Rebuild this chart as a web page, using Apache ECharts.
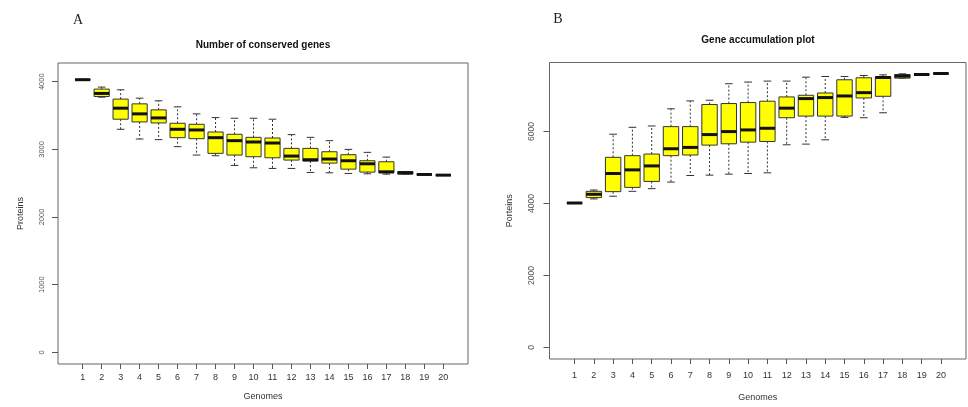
<!DOCTYPE html>
<html>
<head>
<meta charset="utf-8">
<script src="https://cdn.jsdelivr.net/npm/echarts@6/dist/echarts.min.js"></script>
<style>
  html, body { margin: 0; padding: 0; background: #fff; }
  #chart { width: 968px; height: 407px; }
</style>
</head>
<body>
<div id="chart"></div>
<script>
// genome count on the x axis
const genomes = [1, 2, 3, 4, 5, 6, 7, 8, 9, 10, 11, 12, 13, 14, 15, 16, 17, 18, 19, 20]

// A: number of conserved genes (whisker low, Q1, median, Q3, whisker high)
const coreLow = [4025, 3772, 3297, 3153, 3144, 3040, 2916, 2906, 2763, 2728, 2718, 2718, 2659, 2654, 2644, 2639, 2634, 2634, 2629, 2619]
const coreQ1 = [4028, 3782, 3446, 3406, 3391, 3173, 3158, 2941, 2916, 2891, 2876, 2842, 2827, 2797, 2708, 2664, 2654, 2634, 2629, 2619]
const coreMedian = [4030, 3827, 3609, 3525, 3465, 3297, 3287, 3173, 3129, 3109, 3094, 2901, 2847, 2857, 2832, 2787, 2668, 2654, 2629, 2619]
const coreQ3 = [4032, 3891, 3743, 3673, 3584, 3386, 3371, 3257, 3223, 3178, 3168, 3015, 3015, 2965, 2921, 2832, 2817, 2673, 2629, 2619]
const coreHigh = [4035, 3921, 3881, 3757, 3718, 3629, 3525, 3470, 3460, 3460, 3446, 3218, 3178, 3129, 3000, 2956, 2886, 2673, 2629, 2619]
const coreTicks = [0, 1000, 2000, 3000, 4000]

// B: gene accumulation (whisker low, Q1, median, Q3, whisker high)
const panLow = [4015, 4129, 4203, 4340, 4414, 4597, 4780, 4790, 4817, 4835, 4854, 5633, 5652, 5771, 6394, 6385, 6523, 7486, 7586, 7614]
const panQ1 = [4015, 4166, 4331, 4450, 4615, 5331, 5349, 5624, 5661, 5707, 5725, 6385, 6431, 6431, 6431, 6935, 6981, 7486, 7586, 7614]
const panMedian = [4015, 4258, 4835, 4936, 5046, 5523, 5560, 5917, 6000, 6046, 6092, 6651, 6917, 6945, 6990, 7082, 7504, 7541, 7586, 7614]
const panQ3 = [4015, 4340, 5285, 5331, 5376, 6138, 6138, 6752, 6779, 6807, 6844, 6963, 7009, 7073, 7440, 7495, 7522, 7586, 7586, 7614]
const panHigh = [4015, 4377, 5927, 6119, 6156, 6633, 6853, 6871, 7330, 7376, 7403, 7403, 7513, 7531, 7531, 7559, 7577, 7605, 7586, 7614]
const panTicks = [0, 2000, 4000, 6000]

const boxData = (lo, q1, md, q3, hi) => genomes.map((g, i) => [g, lo[i], q1[i], md[i], q3[i], hi[i]])

// draw one R-style box: dashed whiskers, staples, yellow box, thick median
function renderBox (params, api) {
  const x = api.value(0)
  const lo = api.coord([x, api.value(1)])
  const q1 = api.coord([x, api.value(2)])
  const md = api.coord([x, api.value(3)])
  const q3 = api.coord([x, api.value(4)])
  const hi = api.coord([x, api.value(5)])
  const w = api.size([0.8, 0])[0]
  const cx = md[0]
  const whisker = { stroke: '#333', lineWidth: 1, lineDash: [2, 2] }
  const staple = { stroke: '#333', lineWidth: 1 }
  return {
    type: 'group',
    children: [
      { type: 'line', shape: { x1: cx, y1: q3[1], x2: cx, y2: hi[1] }, style: whisker },
      { type: 'line', shape: { x1: cx, y1: q1[1], x2: cx, y2: lo[1] }, style: whisker },
      { type: 'line', shape: { x1: cx - w / 4, y1: hi[1], x2: cx + w / 4, y2: hi[1] }, style: staple },
      { type: 'line', shape: { x1: cx - w / 4, y1: lo[1], x2: cx + w / 4, y2: lo[1] }, style: staple },
      { type: 'rect', shape: { x: cx - w / 2, y: q3[1], width: w, height: q1[1] - q3[1] }, style: { fill: '#ffff00', stroke: '#333', lineWidth: 1 } },
      { type: 'line', shape: { x1: cx - w / 2, y1: md[1], x2: cx + w / 2, y2: md[1] }, style: { stroke: '#111', lineWidth: 3 } }
    ]
  }
}

const font = 'Liberation Sans, Arial, sans-serif'

function xAxisFor (gridIndex, labelMargin, nameGap) {
  return {
    type: 'value',
    gridIndex: gridIndex,
    min: -0.3,
    max: 21.3,
    name: 'Genomes',
    nameLocation: 'middle',
    nameGap: nameGap,
    nameTextStyle: { fontFamily: font, fontSize: 9, color: '#333' },
    axisLine: { show: false, onZero: false },
    splitLine: { show: false },
    axisTick: { show: true, length: 5, customValues: genomes, lineStyle: { color: '#555' } },
    axisLabel: { customValues: genomes, margin: labelMargin, fontFamily: font, fontSize: 9, color: '#333' }
  }
}

function yAxisFor (gridIndex, min, max, ticks, name, nameGap, labelSize, labelMargin) {
  return {
    type: 'value',
    gridIndex: gridIndex,
    min: min,
    max: max,
    name: name,
    nameLocation: 'middle',
    nameGap: nameGap,
    nameTextStyle: { fontFamily: font, fontSize: 9, color: '#333' },
    axisLine: { show: false, onZero: false },
    splitLine: { show: false },
    axisTick: { show: true, length: 6, customValues: ticks, lineStyle: { color: '#555' } },
    axisLabel: {
      customValues: ticks,
      formatter: v => String(v),
      rotate: 90,
      margin: labelMargin,
      fontFamily: font,
      fontSize: labelSize,
      color: '#555'
    }
  }
}

const chart = echarts.init(document.getElementById('chart'), null, { renderer: 'canvas' })

chart.setOption({
  backgroundColor: '#fff',
  animation: false,
  title: [
    { text: 'A', left: 78, top: 13, padding: 0, textAlign: 'center', textStyle: { fontFamily: 'Liberation Serif, serif', fontSize: 14, fontWeight: 'normal', color: '#222' } },
    { text: 'B', left: 558, top: 12, padding: 0, textAlign: 'center', textStyle: { fontFamily: 'Liberation Serif, serif', fontSize: 14, fontWeight: 'normal', color: '#222' } },
    { text: 'Number of conserved genes', left: 263, top: 40, padding: 0, textAlign: 'center', textStyle: { fontFamily: font, fontSize: 10, fontWeight: 'bold', color: '#111' } },
    { text: 'Gene accumulation plot', left: 758, top: 35, padding: 0, textAlign: 'center', textStyle: { fontFamily: font, fontSize: 10, fontWeight: 'bold', color: '#111' } }
  ],
  grid: [
    { left: 58, top: 63, width: 410, height: 301, show: true, borderColor: '#666', borderWidth: 1, backgroundColor: 'transparent' },
    { left: 549.5, top: 62.5, width: 416.5, height: 300, show: true, borderColor: '#666', borderWidth: 1, backgroundColor: 'transparent' }
  ],
  xAxis: [
    xAxisFor(0, 9, 28),
    xAxisFor(1, 12, 34)
  ],
  yAxis: [
    yAxisFor(0, -173, 4277, coreTicks, 'Proteins', 33, 7.5, 12.5),
    yAxisFor(1, -320, 7920, panTicks, 'Porteins', 35, 8.5, 13.5)
  ],
  series: [
    {
      type: 'custom',
      xAxisIndex: 0,
      yAxisIndex: 0,
      renderItem: renderBox,
      encode: { x: 0, y: [1, 2, 3, 4, 5] },
      data: boxData(coreLow, coreQ1, coreMedian, coreQ3, coreHigh)
    },
    {
      type: 'custom',
      xAxisIndex: 1,
      yAxisIndex: 1,
      renderItem: renderBox,
      encode: { x: 0, y: [1, 2, 3, 4, 5] },
      data: boxData(panLow, panQ1, panMedian, panQ3, panHigh)
    }
  ]
})
</script>
</body>
</html>
